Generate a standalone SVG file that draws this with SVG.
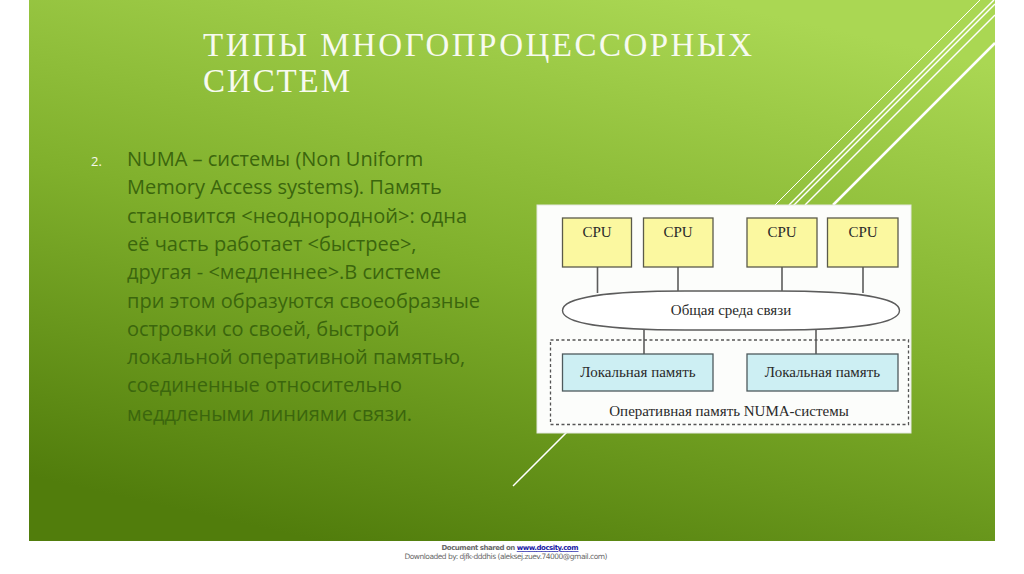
<svg xmlns="http://www.w3.org/2000/svg" width="1024" height="574" viewBox="0 0 1024 574">
  <defs>
    <linearGradient id="bg" x1="0.7" y1="0" x2="0.3" y2="1">
      <stop offset="0" stop-color="#aad753"/>
      <stop offset="0.5" stop-color="#80b02c"/>
      <stop offset="1" stop-color="#517d0c"/>
    </linearGradient>
    <style>
      .title { font-family: "Liberation Serif", "DejaVu Serif", serif; font-size: 33px; fill: #f7faf0; }
      .body { font-family: "Open Sans", "Noto Sans", sans-serif; font-size: 20px; fill: #3b660d; }
      .num { font-family: "Open Sans", "Noto Sans", sans-serif; font-size: 13px; fill: #f4f8ec; }
      .dtext { font-family: "Liberation Serif", "DejaVu Serif", serif; font-size: 15px; fill: #2a2a2a; text-anchor: middle; }
      .cpu { fill: #fbf8a0; stroke: #5a5a4a; stroke-width: 1.3; }
      .mem { fill: #cdeff3; stroke: #4e5a5c; stroke-width: 1.3; }
      .wire { stroke: #5c5c5c; stroke-width: 1.6; fill: none; }
      .deco { stroke: #ffffff; fill: none; }
      .foot { font-family: "DejaVu Sans", "Liberation Sans", sans-serif; fill: #6a6a6a; text-anchor: middle; }
    </style>
  </defs>

  <rect x="0" y="0" width="1024" height="574" fill="#ffffff"/>
  <rect x="29" y="0" width="966" height="541" fill="url(#bg)"/>

  <!-- decorative diagonal lines -->
  <g id="decor">
    <line class="deco" x1="980" y1="0" x2="775" y2="205" stroke-width="1"/>
    <line class="deco" x1="994" y1="0" x2="789" y2="205" stroke-width="1.5"/>
    <line class="deco" x1="995" y1="4" x2="513" y2="486" stroke-width="1.5"/>
    <line class="deco" x1="995" y1="15" x2="805" y2="205" stroke-width="1.5"/>
    <line class="deco" x1="995" y1="43" x2="833" y2="205" stroke-width="2.5"/>
  </g>

  <!-- title -->
  <g id="title">
    <text class="title" x="203" y="56" textLength="549" lengthAdjust="spacing">ТИПЫ МНОГОПРОЦЕССОРНЫХ</text>
    <text class="title" x="203" y="92" textLength="147" lengthAdjust="spacing">СИСТЕМ</text>
  </g>

  <!-- body text -->
  <g id="body">
    <text class="num" x="91" y="166">2.</text>
    <text class="body" x="127" y="166">NUMA – системы (Non Uniform</text>
    <text class="body" x="127" y="194.3">Memory Access systems). Память</text>
    <text class="body" x="127" y="222.6">становится &lt;неоднородной&gt;: одна</text>
    <text class="body" x="127" y="250.9">её часть работает &lt;быстрее&gt;,</text>
    <text class="body" x="127" y="279.2">другая - &lt;медленнее&gt;.В системе</text>
    <text class="body" x="127" y="307.5">при этом образуются своеобразные</text>
    <text class="body" x="127" y="335.8">островки со своей, быстрой</text>
    <text class="body" x="127" y="364.1">локальной оперативной памятью,</text>
    <text class="body" x="127" y="392.4">соединенные относительно</text>
    <text class="body" x="127" y="420.7">меддлеными линиями связи.</text>
  </g>

  <!-- diagram panel -->
  <rect x="537" y="205" width="374" height="228" fill="#fcfdfb" stroke="#e4e8e0" stroke-width="1"/>

  <g id="connectors">
    <line class="wire" x1="597.5" y1="267" x2="597.5" y2="293"/>
    <line class="wire" x1="678" y1="267" x2="678" y2="292"/>
    <line class="wire" x1="782" y1="267" x2="782" y2="292"/>
    <line class="wire" x1="863" y1="267" x2="863" y2="293"/>
    <line class="wire" x1="644" y1="329" x2="644" y2="354"/>
    <line class="wire" x1="816" y1="329" x2="816" y2="354"/>
  </g>

  <g id="numa-memory">
    <rect x="550.5" y="340" width="358" height="84.5" fill="none" stroke="#555" stroke-width="1.3" stroke-dasharray="3 2.5"/>
    <text class="dtext" x="729" y="416">Оперативная память NUMA-системы</text>
  </g>

  <g id="cpu1">
    <rect class="cpu" x="562.5" y="218" width="69" height="49"/>
    <text class="dtext" x="597" y="237">CPU</text>
  </g>
  <g id="cpu2">
    <rect class="cpu" x="643.5" y="218" width="69.5" height="49"/>
    <text class="dtext" x="678" y="237">CPU</text>
  </g>
  <g id="cpu3">
    <rect class="cpu" x="747" y="218" width="70" height="49"/>
    <text class="dtext" x="782" y="237">CPU</text>
  </g>
  <g id="cpu4">
    <rect class="cpu" x="827.5" y="218" width="70.5" height="49"/>
    <text class="dtext" x="863" y="237">CPU</text>
  </g>

  <g id="bus">
    <path d="M 562.5,310.5 C 562.5,297 610,291 685,291 L 777,291 C 852,291 899.5,297 899.5,310.5 C 899.5,324 852,330 777,330 L 685,330 C 610,330 562.5,324 562.5,310.5 Z" fill="#ffffff" stroke="#5c5c5c" stroke-width="1.4"/>
    <text class="dtext" x="731" y="315">Общая среда связи</text>
  </g>

  <g id="local-mem1">
    <rect class="mem" x="562.5" y="354" width="150.5" height="37"/>
    <text class="dtext" x="638" y="377">Локальная память</text>
  </g>
  <g id="local-mem2">
    <rect class="mem" x="747" y="354" width="151" height="37"/>
    <text class="dtext" x="822.5" y="377">Локальная память</text>
  </g>

  <!-- footer -->
  <g id="footer">
    <text class="foot" x="510" y="550" font-size="7" font-weight="bold" textLength="137" lengthAdjust="spacing">Document shared on <tspan fill="#1a1aa6" text-decoration="underline">www.docsity.com</tspan></text>
    <text class="foot" x="506" y="559" font-size="7.5" textLength="203" lengthAdjust="spacing">Downloaded by: djfk-dddhis (aleksej.zuev.74000@gmail.com)</text>
  </g>
</svg>
